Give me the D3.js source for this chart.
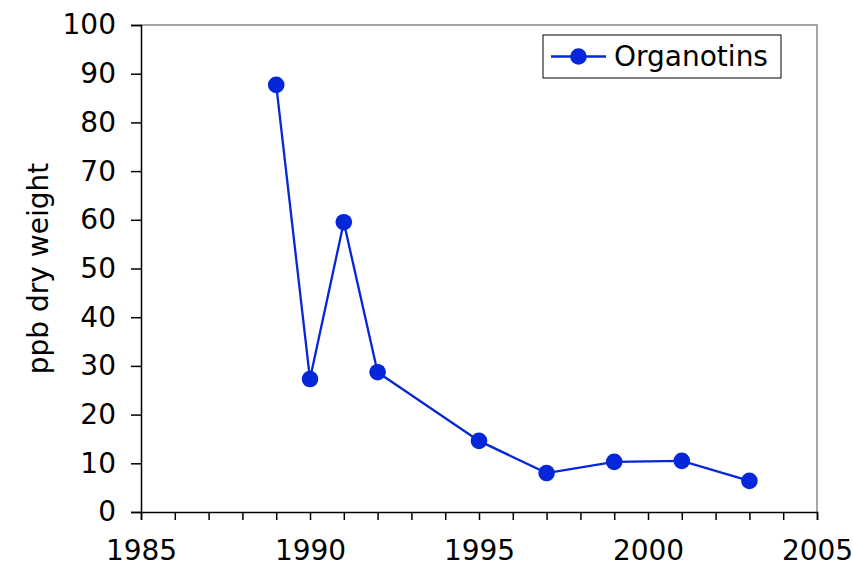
<!DOCTYPE html>
<html>
<head>
<meta charset="utf-8">
<script src="https://cdn.jsdelivr.net/npm/d3@7"></script>
<style>
  body { margin: 0; background: #fff; }
  text { font-family: "DejaVu Sans", Verdana, sans-serif; fill: #000; }
</style>
</head>
<body>
<div id="chart"></div>
<script>
const years = [1989, 1990, 1991, 1992, 1995, 1997, 1999, 2001, 2003];
const values = [87.7, 27.3, 59.5, 28.7, 14.6, 8.0, 10.3, 10.5, 6.4];
const seriesName = 'Organotins';
const xTickLabels = [1985, 1990, 1995, 2000, 2005];
const yTickLabels = [0, 10, 20, 30, 40, 50, 60, 70, 80, 90, 100];
const yTitle = 'ppb dry weight';

const W = 853, H = 567;
const margin = { left: 141, right: 36, top: 25, bottom: 55 };
const color = '#0527d9';
const fs = '28px';

const svg = d3.select('#chart').append('svg')
  .attr('width', W).attr('height', H);

const x = d3.scaleLinear().domain([1985, 2005]).range([margin.left, W - margin.right]);
const y = d3.scaleLinear().domain([0, 100]).range([H - margin.bottom, margin.top]);

// frame top & right (grey)
svg.append('path')
  .attr('d', `M${x(1985)},${y(100)}H${x(2005)}V${y(0)}`)
  .attr('fill', 'none').attr('stroke', '#a6a6a6').attr('stroke-width', 2);

// y axis
const yAxis = svg.append('g')
  .attr('transform', `translate(${x(1985)},0)`)
  .call(d3.axisLeft(y).tickValues(yTickLabels).tickSize(10).tickPadding(15));
yAxis.selectAll('text').style('font-size', fs);

// x axis, ticks each year, labels each 5
const xAxis = svg.append('g')
  .attr('transform', `translate(0,${y(0)})`)
  .call(d3.axisBottom(x).tickValues(d3.range(1985, 2006)).tickSize(8).tickPadding(20)
    .tickFormat(d => xTickLabels.includes(d) ? d : ''));
xAxis.selectAll('text').style('font-size', fs);

[yAxis, xAxis].forEach(g => {
  g.selectAll('path, line').attr('stroke', '#000').attr('stroke-width', 1.5);
});

svg.append('text')
  .attr('transform', `translate(48,${(y(0) + y(100)) / 2}) rotate(-90)`)
  .attr('text-anchor', 'middle')
  .style('font-size', fs)
  .text(yTitle);

const pts = years.map((d, i) => [d, values[i]]);
svg.append('path')
  .datum(pts)
  .attr('fill', 'none').attr('stroke', color).attr('stroke-width', 2.3)
  .attr('d', d3.line().x(d => x(d[0])).y(d => y(d[1])));

svg.append('g').selectAll('circle')
  .data(pts).join('circle')
  .attr('cx', d => x(d[0])).attr('cy', d => y(d[1])).attr('r', 8.3)
  .attr('fill', color);

// legend
const lg = svg.append('g').attr('transform', 'translate(543,35)');
lg.append('rect').attr('width', 238).attr('height', 43)
  .attr('fill', '#fff').attr('stroke', '#000').attr('stroke-width', 1);
lg.append('line').attr('x1', 8).attr('x2', 63).attr('y1', 21.5).attr('y2', 21.5)
  .attr('stroke', color).attr('stroke-width', 2.3);
lg.append('circle').attr('cx', 35.5).attr('cy', 21.5).attr('r', 8.3).attr('fill', color);
lg.append('text').attr('x', 71).attr('y', 31).style('font-size', fs).text(seriesName);
</script>
</body>
</html>
